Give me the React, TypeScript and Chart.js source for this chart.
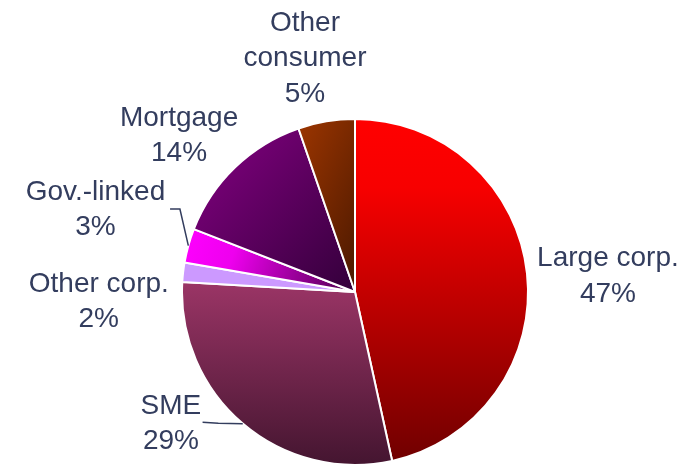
import { useEffect, useRef } from "react";
import { Chart, registerables } from "chart.js";

Chart.register(...registerables);

// ---- data ----
const categories = ["Large corp.", "SME", "Other corp.", "Gov.-linked", "Mortgage", "Other consumer"];
const shares = [46.6, 29.4, 1.8, 3.2, 13.8, 5.3];
const labelLines: string[][] = [["Large corp."], ["SME"], ["Other corp."], ["Gov.-linked"], ["Mortgage"], ["Other", "consumer"]];

// ---- styling ----
const TEXT_COLOR = "#333d5e";
const FONT = "28px 'Liberation Sans', Arial, sans-serif";
const LINE_PITCH = 35.5;
const PIE_RADIUS = 173;

type Fill = { angle: number; stops: [number, string][] };
const sliceFills: Fill[] = [
  { angle: 90, stops: [[0, "#ff0000"], [0.2, "#f70000"], [1, "#700000"]] },
  { angle: 90, stops: [[0, "#9b3566"], [1, "#441530"]] },
  { angle: 0, stops: [[0, "#cc99ff"], [1, "#cc99ff"]] },
  { angle: 20, stops: [[0, "#ff00ff"], [0.3, "#ee00ee"], [1, "#4a004a"]] },
  { angle: 45, stops: [[0, "#850083"], [1, "#33003a"]] },
  { angle: 25, stops: [[0, "#9c3500"], [1, "#4a1800"]] },
];

// label anchor (centre x, first baseline) in units of the pie radius from the pie centre
const labelPlacement = [
  { x: 1.462, y: -0.15 },
  { x: -1.064, y: 0.705 },
  { x: -1.481, y: -0.002 },
  { x: -1.5, y: -0.532 },
  { x: -1.017, y: -0.96 },
  { x: -0.289, y: -1.509 },
];
// leader line points (radius units) before reaching the slice edge
const leaderLines: ([number, number][] | null)[] = [
  null,
  [[-0.881, 0.753], [-0.79, 0.759]],
  null,
  [[-1.069, -0.48], [-1.012, -0.48]],
  null,
  null,
];

function sliceGradient(chart: any, index: number) {
  const fill = sliceFills[index];
  const area = chart.chartArea;
  if (!area) return fill.stops[0][1];
  const cx = (area.left + area.right) / 2;
  const cy = (area.top + area.bottom) / 2;
  const total = shares.reduce((a, b) => a + b, 0);
  let start = -Math.PI / 2;
  for (let i = 0; i < index; i++) start += (shares[i] / total) * Math.PI * 2;
  const end = start + (shares[index] / total) * Math.PI * 2;
  const pts: [number, number][] = [[cx, cy]];
  const addAng = (a: number) => pts.push([cx + Math.cos(a) * PIE_RADIUS, cy + Math.sin(a) * PIE_RADIUS]);
  addAng(start);
  addAng(end);
  for (let k = -2; k <= 6; k++) {
    const a = (k * Math.PI) / 2;
    if (a > start && a < end) addAng(a);
  }
  const xs = pts.map((p) => p[0]);
  const ys = pts.map((p) => p[1]);
  const x0 = Math.min(...xs), x1 = Math.max(...xs), y0 = Math.min(...ys), y1 = Math.max(...ys);
  const th = (fill.angle * Math.PI) / 180;
  const dx = Math.cos(th), dy = Math.sin(th);
  const corners = [[x0, y0], [x1, y0], [x0, y1], [x1, y1]];
  const proj = corners.map((c) => c[0] * dx + c[1] * dy);
  const pMin = Math.min(...proj), pMax = Math.max(...proj);
  const g = chart.ctx.createLinearGradient(dx * pMin, dy * pMin, dx * pMax, dy * pMax);
  fill.stops.forEach(([o, c]) => g.addColorStop(o, c));
  return g;
}

const labelPlugin = {
  id: "sliceLabels",
  afterDatasetsDraw(chart: any) {
    const meta = chart.getDatasetMeta(0);
    const ctx = chart.ctx;
    const total = shares.reduce((a, b) => a + b, 0);
    ctx.save();
    ctx.font = FONT;
    ctx.fillStyle = TEXT_COLOR;
    ctx.strokeStyle = TEXT_COLOR;
    ctx.lineWidth = 1.5;
    ctx.textAlign = "center";
    ctx.textBaseline = "alphabetic";
    meta.data.forEach((arc: any, i: number) => {
      const { x, y, startAngle, endAngle, outerRadius } = arc.getProps(
        ["x", "y", "startAngle", "endAngle", "outerRadius"],
        true
      );
      const R = outerRadius;
      const p = labelPlacement[i];
      const lx = x + p.x * R;
      const ly = y + p.y * R;
      const pct = Math.round((shares[i] / total) * 100) + "%";
      const lines = [...labelLines[i], pct];
      lines.forEach((t, k) => ctx.fillText(t, lx, ly + k * LINE_PITCH));
      const lead = leaderLines[i];
      if (lead) {
        const mid = (startAngle + endAngle) / 2;
        ctx.beginPath();
        lead.forEach(([ux, uy], k) => {
          const px = x + ux * R, py = y + uy * R;
          if (k === 0) ctx.moveTo(px, py);
          else ctx.lineTo(px, py);
        });
        ctx.lineTo(x + Math.cos(mid) * R, y + Math.sin(mid) * R);
        ctx.stroke();
      }
    });
    ctx.restore();
  },
};

export default function App() {
  const ref = useRef<HTMLCanvasElement | null>(null);
  useEffect(() => {
    if (!ref.current) return;
    const chart = new Chart(ref.current, {
      type: "pie",
      data: {
        labels: categories,
        datasets: [
          {
            data: shares,
            backgroundColor: (c: any) => sliceGradient(c.chart, c.dataIndex),
            borderColor: "#ffffff",
            borderWidth: 2,
            clip: false,
          } as any,
        ],
      },
      options: {
        animation: false,
        responsive: true,
        maintainAspectRatio: false,
        radius: PIE_RADIUS,
        layout: { padding: { top: 119, bottom: 0, left: 105, right: 88 } },
        plugins: { legend: { display: false }, tooltip: { enabled: false } },
      } as any,
      plugins: [labelPlugin],
    });
    return () => chart.destroy();
  }, []);
  return (
    <div style={{ position: "absolute", left: 0, top: 0, width: 693, height: 465, background: "#fff" }}>
      <canvas ref={ref} />
    </div>
  );
}
